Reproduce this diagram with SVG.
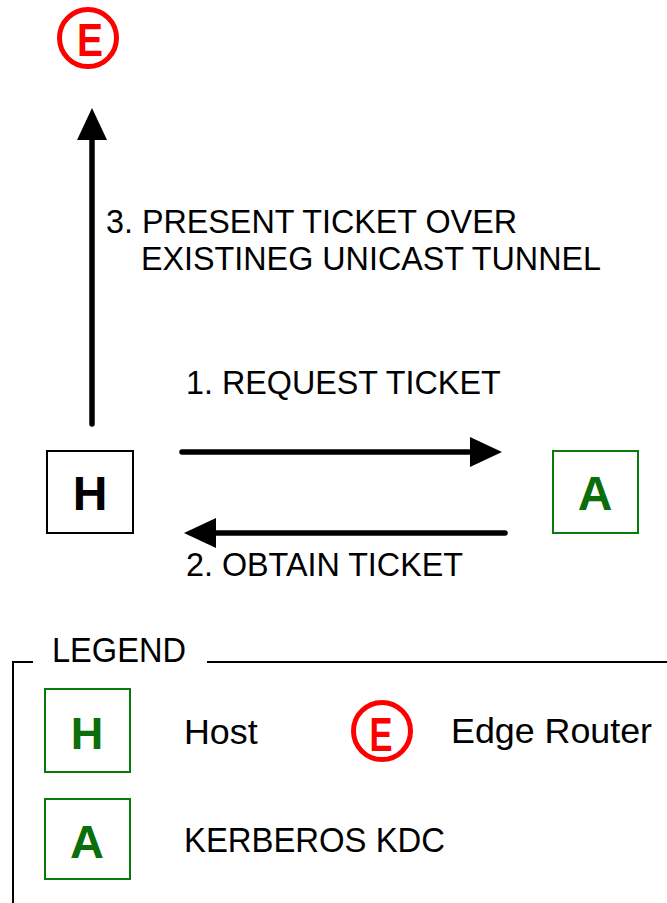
<svg xmlns="http://www.w3.org/2000/svg" width="667" height="903" viewBox="0 0 667 903">
  <style>
    .lbl { font-family: "Liberation Sans", Arial, sans-serif; font-size: 32.3px; fill: #000; }
    .leg { font-family: "Liberation Sans", Arial, sans-serif; font-size: 35.8px; fill: #000; }
    .node-black { fill: #fff; stroke: #000; stroke-width: 2; }
    .node-green { fill: #fff; stroke: #0a780a; stroke-width: 2; }
    .glyph { font-family: "Liberation Sans", Arial, sans-serif; font-weight: bold; text-anchor: middle; }
    .edge-ring { fill: none; stroke: #ff0000; stroke-width: 5; }
    .conn { stroke: #000; stroke-width: 5.5; stroke-linecap: round; fill: none; }
    .frame { stroke: #000; stroke-width: 2; fill: none; }
  </style>
  <defs>
    <marker id="head" viewBox="0 0 32 30" refX="2" refY="15" markerWidth="32" markerHeight="30" markerUnits="userSpaceOnUse" orient="auto">
      <path d="M0,0 L32,15 L0,30 Z" fill="#000"/>
    </marker>
  </defs>

  <!-- Edge router (top) -->
  <g id="edge-router">
    <circle class="edge-ring" cx="88" cy="38" r="28.5"/>
    <text class="glyph" x="90" y="55.5" font-size="47" fill="#ff0000" textLength="26" lengthAdjust="spacingAndGlyphs">E</text>
  </g>

  <!-- Host -->
  <g id="host">
    <rect class="node-black" x="47" y="451" width="86" height="82"/>
    <text class="glyph" x="90" y="510" font-size="48" fill="#000">H</text>
  </g>

  <!-- Kerberos KDC -->
  <g id="kdc">
    <rect class="node-green" x="553" y="451" width="85" height="82"/>
    <text class="glyph" x="595" y="510" font-size="48" fill="#0a6e0a">A</text>
  </g>

  <!-- Connectors -->
  <g id="connectors">
    <line class="conn" x1="92" y1="424" x2="92" y2="138" marker-end="url(#head)"/>
    <line class="conn" x1="182" y1="452" x2="472" y2="452" marker-end="url(#head)"/>
    <line class="conn" x1="505" y1="533" x2="214" y2="533" marker-end="url(#head)"/>
  </g>

  <!-- Connector labels -->
  <g id="labels">
    <text class="lbl" x="106" y="233">3. PRESENT TICKET OVER</text>
    <text class="lbl" x="141" y="270">EXISTINEG UNICAST TUNNEL</text>
    <text class="lbl" x="186" y="394">1. REQUEST TICKET</text>
    <text class="lbl" x="186" y="576">2. OBTAIN TICKET</text>
  </g>

  <!-- Legend -->
  <g id="legend">
    <path class="frame" d="M13,903 L13,662 L33,662 M207,662 L667,662"/>
    <text class="leg" x="52" y="662" textLength="134" lengthAdjust="spacingAndGlyphs">LEGEND</text>

    <g id="legend-host">
      <rect class="node-green" x="45" y="689" width="85" height="83"/>
      <text class="glyph" x="87" y="749" font-size="45" fill="#0a6e0a">H</text>
      <text class="leg" x="184" y="744">Host</text>
    </g>

    <g id="legend-edge-router">
      <circle class="edge-ring" cx="382" cy="731" r="28.5"/>
      <text class="glyph" x="381" y="750.5" font-size="49" fill="#ff0000" textLength="23" lengthAdjust="spacingAndGlyphs">E</text>
      <text class="leg" x="451" y="743">Edge Router</text>
    </g>

    <g id="legend-kdc">
      <rect class="node-green" x="45" y="799" width="85" height="80"/>
      <text class="glyph" x="87" y="858" font-size="47" fill="#0a6e0a">A</text>
      <text class="leg" x="184" y="852" textLength="261" lengthAdjust="spacingAndGlyphs">KERBEROS KDC</text>
    </g>
  </g>
</svg>
